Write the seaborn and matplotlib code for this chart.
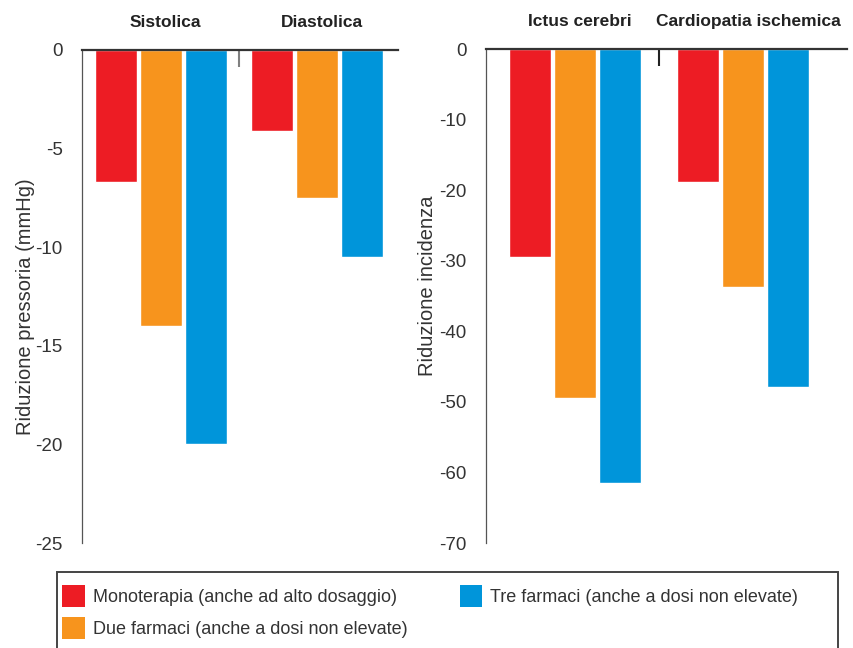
import matplotlib
matplotlib.use("Agg")
import matplotlib.pyplot as plt
import matplotlib.patches as mpatches
import pandas as pd
import seaborn as sns

# Data
treatments = ["Monoterapia (anche ad alto dosaggio)",
              "Due farmaci (anche a dosi non elevate)",
              "Tre farmaci (anche a dosi non elevate)"]
colors = ["#ED1C24", "#F7941D", "#0095DA"]

bp_groups = ["Sistolica", "Diastolica"]
bp_mono = [-6.7, -4.1]
bp_due = [-14.0, -7.5]
bp_tre = [-20.0, -10.5]

inc_groups = ["Ictus cerebri", "Cardiopatia ischemica"]
inc_mono = [-29.5, -18.8]
inc_due = [-49.4, -33.7]
inc_tre = [-61.5, -47.9]

bp_ticks = [0, -5, -10, -15, -20, -25]
inc_ticks = [0, -10, -20, -30, -40, -50, -60, -70]


def frame(groups, mono, due, tre):
    rows = []
    for vals, t in zip([mono, due, tre], treatments):
        for g, v in zip(groups, vals):
            rows.append({"gruppo": g, "terapia": t, "valore": v})
    return pd.DataFrame(rows)


sns.set_theme(style="white")
plt.rcParams["font.family"] = ["Liberation Sans", "DejaVu Sans"]

W, H = 854, 648
fig = plt.figure(figsize=(W / 100, H / 100), dpi=100)
ax1 = fig.add_axes([82 / W, 105 / H, 316 / W, 493 / H])
ax2 = fig.add_axes([486 / W, 105 / H, 361 / W, 494 / H])

panels = [
    (ax1, frame(bp_groups, bp_mono, bp_due, bp_tre), bp_groups, bp_ticks,
     (-0.506, 1.52), 0.87, 0.07, "Riduzione pressoria (mmHg)", "#808080"),
    (ax2, frame(inc_groups, inc_mono, inc_due, inc_tre), inc_groups, inc_ticks,
     (-0.53, 1.62), 0.80, 0.065, "Riduzione incidenza", "#222222"),
]

for ax, df, groups, ticks, xlim, width, gap, ylabel, tickcol in panels:
    sns.barplot(data=df, x="gruppo", y="valore", hue="terapia",
                hue_order=treatments, order=groups, palette=colors,
                width=width, gap=gap, saturation=1, legend=False, ax=ax)
    ax.set_xlim(*xlim)
    ax.set_ylim(ticks[-1], 0)
    ax.set_yticks(ticks)
    ax.set_yticklabels([str(t) for t in ticks], fontsize=13.5, color="#333333")
    ax.tick_params(axis="y", length=0, pad=14)
    ax.set_ylabel(ylabel, fontsize=14.5, color="#333333")
    ax.set_xlabel("")
    # separator tick between the two groups, hanging from the zero line
    ax.xaxis.tick_top()
    ax.set_xticks([0.5])
    ax.set_xticklabels([""])
    ax.tick_params(axis="x", direction="in", length=12, width=1.5, color=tickcol)
    for side in ["right", "bottom"]:
        ax.spines[side].set_visible(False)
    ax.spines["top"].set_color("#333333")
    ax.spines["top"].set_linewidth(1.6)
    ax.spines["left"].set_color("#555555")
    ax.spines["left"].set_linewidth(0.9)
    for i, g in enumerate(groups):
        ax.text(i + 0.03, 1.04, g, transform=ax.get_xaxis_transform(),
                ha="center", va="bottom", fontsize=12.5, fontweight="bold",
                color="#222222")

ax1.yaxis.set_label_coords(-0.15, 0.48)
ax2.yaxis.set_label_coords(-0.135, 0.52)

# legend box, open at the bottom edge of the figure
box = mpatches.Rectangle((57 / W, -0.01), (838 - 57) / W, (H - 572) / H + 0.01,
                         transform=fig.transFigure, facecolor="white",
                         edgecolor="#444444", linewidth=1.4)
fig.patches.append(box)

handles = [mpatches.Patch(facecolor=c, edgecolor="none", label=t)
           for c, t in zip(colors, treatments)]
leg = fig.legend(handles=handles, ncol=2, loc="upper left",
                 bbox_to_anchor=(62 / W, 1 - 585 / H), fontsize=13,
                 frameon=False, handlelength=1.25, handleheight=1.5,
                 handletextpad=0.45, columnspacing=2.9,
                 borderpad=0.0, labelspacing=0.55, borderaxespad=0)
for txt in leg.get_texts():
    txt.set_color("#333333")

fig.savefig("out.png", dpi=100)
